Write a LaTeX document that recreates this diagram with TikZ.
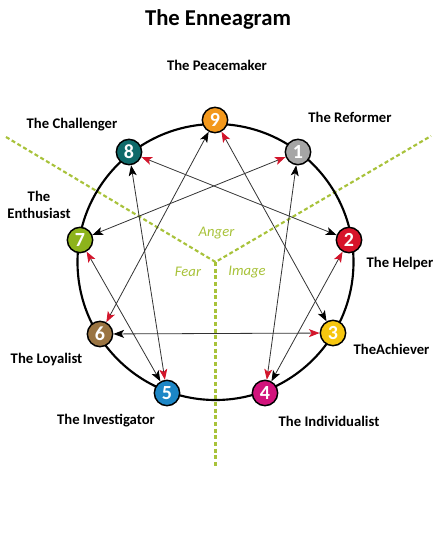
\documentclass[tikz,border=0pt]{standalone}
\usepackage{fontspec}
\setmainfont{Carlito}
\usetikzlibrary{arrows.meta}
\definecolor{ennline}{HTML}{333333}
\definecolor{ennred}{HTML}{D2152B}
\definecolor{enngreen}{HTML}{A8C23A}
\definecolor{typeone}{HTML}{A5A5A5}
\definecolor{typetwo}{HTML}{D7132A}
\definecolor{typethree}{HTML}{F7C710}
\definecolor{typefour}{HTML}{D2137C}
\definecolor{typefive}{HTML}{1C86C6}
\definecolor{typesix}{HTML}{9A7442}
\definecolor{typeseven}{HTML}{8DB31B}
\definecolor{typeeight}{HTML}{0F6A6A}
\definecolor{typenine}{HTML}{F3981C}
\tikzset{
  typedot/.style={circle, draw=black, line width=1.1pt, minimum size=19pt, inner sep=0pt, text=white, font=\bfseries\fontsize{15}{15}\selectfont},
  typename/.style={font=\bfseries\fontsize{11}{13}\selectfont},
  centre/.style={text=enngreen, font=\itshape\fontsize{11}{12}\selectfont},
  link/.style={ennline, line width=0.6pt, {Stealth[color=ennred,length=8pt,width=6pt,inset=2pt]}-{Stealth[color=black,length=8pt,width=6pt,inset=2pt]}},
  zone/.style={enngreen, line width=1.6pt, dash pattern=on 3pt off 2pt},
}

\begin{document}
\begin{tikzpicture}[x=0.75pt, y=-0.75pt]
          \useasboundingbox (0,0) rectangle (437,538);

          \node[font=\bfseries\fontsize{17}{20}\selectfont] (title) at (218,19) {The Enneagram};

          \coordinate (mid) at (215.5,262);
          \coordinate (zoneleft) at (6,137);
          \coordinate (zoneright) at (431,136);
          \coordinate (zonedown) at (215.5,466);
          \draw[zone] (zoneleft) -- (mid) -- (zoneright);
          \draw[zone] (mid) -- (zonedown);

          \draw[line width=1.6pt] (mid) circle (138);

          \node[centre] (anger) at (216.5,233) {Anger};
          \node[centre] (fear) at (188,272) {Fear};
          \node[centre] (image) at (247,272) {Image};

          \node[typedot, fill=typenine] (n9) at (215,120) {9};
          \node[typedot, fill=typeone] (n1) at (298,152) {1};
          \node[typedot, fill=typetwo] (n2) at (349,240) {2};
          \node[typedot, fill=typethree] (n3) at (333,333) {3};
          \node[typedot, fill=typefour] (n4) at (265,393) {4};
          \node[typedot, fill=typefive] (n5) at (167,393) {5};
          \node[typedot, fill=typesix] (n6) at (100,334) {6};
          \node[typedot, fill=typeseven] (n7) at (80,240) {7};
          \node[typedot, fill=typeeight] (n8) at (129,152) {8};

          % black tip = security, red tip = stress
          \draw[link] (n6) -- (n9);
          \draw[link] (n9) -- (n3);
          \draw[link] (n3) -- (n6);
          \draw[link] (n1) -- (n7);
          \draw[link] (n7) -- (n5);
          \draw[link] (n5) -- (n8);
          \draw[link] (n8) -- (n2);
          \draw[link] (n2) -- (n4);
          \draw[link] (n4) -- (n1);

          \node[typename] (peacemaker) at (217,65) {The Peacemaker};
          \node[typename] (reformer) at (350,117) {The Reformer};
          \node[typename, anchor=west] (helper) at (362,264) {The Helper};
          \node[typename, anchor=west] (achiever) at (349,349) {TheAchiever};
          \node[typename] (individualist) at (329,421) {The Individualist};
          \node[typename] (investigator) at (106,421) {The Investigator};
          \node[typename, anchor=east] (loyalist) at (87,360) {The Loyalist};
          \node[typename, align=center] (enthusiast) at (39,205) {The\\Enthusiast};
          \node[typename] (challenger) at (72,125) {The Challenger};
\end{tikzpicture}
\end{document}
